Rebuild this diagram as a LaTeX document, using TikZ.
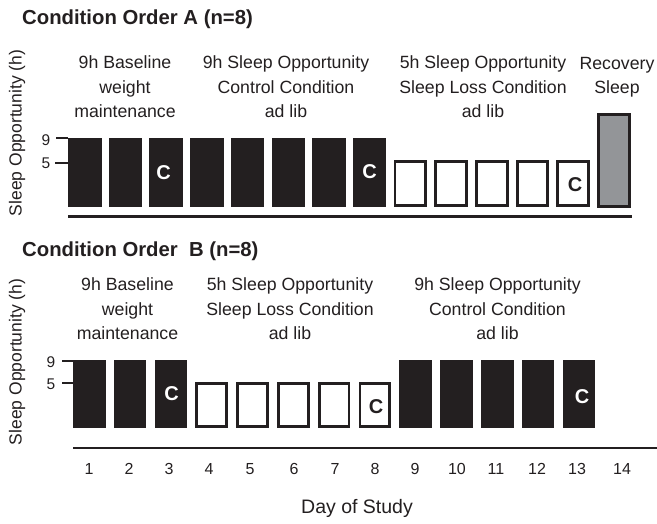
\documentclass[tikz,border=0pt]{standalone}
\usepackage{fontspec}
\setmainfont{Liberation Sans}
\definecolor{barblack}{HTML}{231F20}
\definecolor{bargray}{HTML}{939598}
\definecolor{txt}{HTML}{231F20}
\begin{document}
\begin{tikzpicture}[x=1pt,y=-1pt,
  lbl/.style={font=\fontsize{17.7}{24.5}\selectfont, align=center, text=txt, inner sep=0pt},
  ttl/.style={font=\fontsize{20.3}{22}\selectfont\bfseries, text=txt, inner sep=0pt, anchor=west},
  ylab/.style={font=\fontsize{17.5}{20}\selectfont, text=txt, inner sep=0pt, rotate=90},
  tick/.style={font=\fontsize{15.5}{18}\selectfont, text=txt, inner sep=0pt},
  daynum/.style={font=\fontsize{16}{18}\selectfont, text=txt, inner sep=0pt},
  cw/.style={font=\fontsize{20}{22}\selectfont\bfseries, text=white, inner sep=0pt},
  cb/.style={font=\fontsize{20}{22}\selectfont\bfseries, text=txt, inner sep=0pt},
  blk/.style={fill=barblack},
  wht/.style={draw=barblack, line width=2.8pt, fill=white},
  gry/.style={draw=barblack, line width=2.8pt, fill=bargray},
  axisline/.style={draw=barblack, line width=2.5pt},
  tickline/.style={draw=barblack, line width=1.5pt}
]
\useasboundingbox (0,0) rectangle (657,523);

% ---------------- Panel A ----------------
\node[ttl] (titleA) at (22,19) {Condition Order A (n=8)};
\node[ylab] (ylabA) at (17,133) {Sleep Opportunity (h)};

\node[lbl] (labA1) at (125,87) {9h Baseline\\weight\\maintenance};
\node[lbl] (labA2) at (286,87) {9h Sleep Opportunity\\Control Condition\\ad lib};
\node[lbl] (labA3) at (483,87) {5h Sleep Opportunity\\Sleep Loss Condition\\ad lib};
\node[lbl] (labA4) at (617,77) {Recovery\\Sleep};

% ticks
\draw[tickline] (56,138) -- (68,138);
\draw[tickline] (55,163) -- (68,163);
\node[tick] (tA9) at (46,140) {9};
\node[tick] (tA5) at (46,163) {5};

% bars
\foreach \i in {1,...,8} {
  \pgfmathsetmacro\xl{68+40.7*(\i-1)}
  \fill[blk] (\xl,137.5) rectangle (\xl+33.5,207);
}
\foreach \i in {9,...,13} {
  \pgfmathsetmacro\xl{68+40.7*(\i-1)}
  \draw[wht] (\xl+1.4,161.4) rectangle (\xl+32.1,205.6);
}
\pgfmathsetmacro\xg{68+40.7*13}
\draw[gry] (\xg+1.4,114.4) rectangle (\xg+32.6,206.6);

\node[cw] (cA3) at (163.5,173) {C};
\node[cw] (cA8) at (369.5,172) {C};
\node[cb] (cA13) at (575,185) {C};

\draw[axisline] (68,216.5) -- (632,216.5);

% ---------------- Panel B ----------------
\node[ttl] (titleB) at (22,251) {Condition Order\ \ B (n=8)};
\node[ylab] (ylabB) at (17,362) {Sleep Opportunity (h)};

\node[lbl] (labB1) at (127.5,309) {9h Baseline\\weight\\maintenance};
\node[lbl] (labB2) at (290,309) {5h Sleep Opportunity\\Sleep Loss Condition\\ad lib};
\node[lbl] (labB3) at (497.5,309) {9h Sleep Opportunity\\Control Condition\\ad lib};

\draw[tickline] (62,361) -- (73,361);
\draw[tickline] (62,383) -- (73,383);
\node[tick] (tB9) at (51,362) {9};
\node[tick] (tB5) at (51,384) {5};

\foreach \i in {1,2,3,9,10,11,12,13} {
  \pgfmathsetmacro\xl{73+40.8*(\i-1)}
  \fill[blk] (\xl,360) rectangle (\xl+32.5,428);
}
\foreach \i in {4,...,8} {
  \pgfmathsetmacro\xl{73+40.8*(\i-1)}
  \draw[wht] (\xl+1.4,383.4) rectangle (\xl+31.1,426.6);
}

\node[cw] (cB3) at (171.5,394) {C};
\node[cb] (cB8) at (376,407) {C};
\node[cw] (cB13) at (582,397) {C};

\draw[axisline] (73,448) -- (657,448);

\foreach \n/\x in {1/89,2/129,3/169,4/209,5/250,6/294,7/335,8/375,9/415,10/457,11/496,12/537,13/577,14/622} {
  \node[daynum] (d\n) at (\x,469) {\n};
}

\node[font=\fontsize{19.5}{22}\selectfont, text=txt, inner sep=0pt] (xlab) at (357,508) {Day of Study};
\end{tikzpicture}
\end{document}
